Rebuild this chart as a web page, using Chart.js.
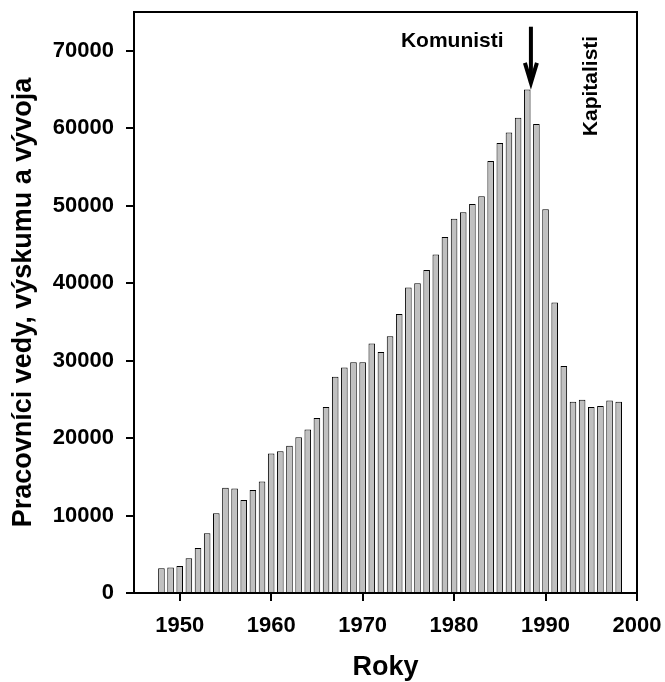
<!DOCTYPE html>
<html>
<head>
<meta charset="utf-8">
<script src="https://cdn.jsdelivr.net/npm/chart.js@4/dist/chart.umd.min.js"></script>
<style>
  html, body { margin: 0; padding: 0; background: #fff; }
  #wrap { width: 665px; height: 682px; }
</style>
</head>
<body>
<div id="wrap"><canvas id="chBar"></canvas></div>
<script>
// Years and number of research workers
const years = [1948, 1949, 1950, 1951, 1952, 1953, 1954, 1955, 1956, 1957,
  1958, 1959, 1960, 1961, 1962, 1963, 1964, 1965, 1966, 1967,
  1968, 1969, 1970, 1971, 1972, 1973, 1974, 1975, 1976, 1977,
  1978, 1979, 1980, 1981, 1982, 1983, 1984, 1985, 1986, 1987,
  1988, 1989, 1990, 1991, 1992, 1993, 1994, 1995, 1996, 1997, 1998];
const workers = [3200, 3300, 3500, 4500, 5800, 7700, 10300, 13600, 13500, 12000,
  13300, 14400, 18000, 18300, 19000, 20100, 21100, 22600, 24000, 27900,
  29100, 29800, 29800, 32200, 31100, 33150, 36000, 39450, 40000, 41700,
  43700, 45950, 48300, 49150, 50200, 51200, 55750, 58100, 59450, 61350,
  65000, 60550, 49550, 37500, 29300, 24700, 24950, 24000, 24150, 24850, 24700];

const xTicks = [1950, 1960, 1970, 1980, 1990, 2000];
const yTicks = [0, 10000, 20000, 30000, 40000, 50000, 60000, 70000];

const FONT = "'Liberation Sans', Arial, sans-serif";

// Notes on the chart (positions in data units)
const komunistiPos = { x: 1979.8, y: 71250 };
const kapitalistiPos = { x: 1995.0, y: 65450 };
const arrowPos = { x: 1988.4, from: 73100, to: 65600 };

const notesPlugin = {
  id: "notes",
  afterDraw(chart) {
    const ctx = chart.ctx;
    const xs = chart.scales.x, ys = chart.scales.y;
    const a = chart.chartArea;
    ctx.save();
    // frame
    ctx.strokeStyle = "#000";
    ctx.lineWidth = 2;
    ctx.strokeRect(a.left, a.top, a.right - a.left, a.bottom - a.top);

    ctx.fillStyle = "#000";
    ctx.font = "bold 21px " + FONT;
    ctx.textAlign = "center";
    ctx.textBaseline = "middle";
    ctx.fillText("Komunisti", xs.getPixelForValue(komunistiPos.x), ys.getPixelForValue(komunistiPos.y));

    ctx.save();
    ctx.translate(xs.getPixelForValue(kapitalistiPos.x), ys.getPixelForValue(kapitalistiPos.y));
    ctx.rotate(-Math.PI / 2);
    ctx.fillText("Kapitalisti", 0, 0);
    ctx.restore();

    // arrow
    const ax = xs.getPixelForValue(arrowPos.x);
    const y1 = ys.getPixelForValue(arrowPos.from);
    const y2 = ys.getPixelForValue(arrowPos.to);
    ctx.lineWidth = 4;
    ctx.lineCap = "butt";
    ctx.beginPath();
    ctx.moveTo(ax, y1);
    ctx.lineTo(ax, y2 - 2);
    ctx.stroke();
    ctx.lineJoin = "miter";
    ctx.beginPath();
    ctx.moveTo(ax - 6, y2 - 22);
    ctx.lineTo(ax, y2 - 2);
    ctx.lineTo(ax + 6, y2 - 22);
    ctx.stroke();
    ctx.restore();
  }
};

const data = {
  datasets: [
    {
      label: "Pracovníci",
      data: years.map((y, i) => ({ x: y, y: workers[i] })),
      backgroundColor: "rgb(192, 192, 192)",
      borderColor: "#000",
      borderWidth: 1,
      categoryPercentage: 1,
      barPercentage: 0.72,
    },
  ],
};

const config = {
  type: "bar",
  data: data,
  options: {
    responsive: true,
    maintainAspectRatio: false,
    animation: false,
    layout: { padding: { top: 12, right: 28, bottom: 0, left: 0 } },
    plugins: { legend: { display: false }, tooltip: { enabled: false } },
    scales: {
      x: {
        type: "linear",
        min: 1945,
        max: 2000,
        offset: false,
        afterBuildTicks: (s) => { s.ticks = xTicks.map((v) => ({ value: v })); },
        afterFit: (s) => {
          s.height = 89;
          s.paddingLeft = 0;
          s.paddingRight = 0;
        },
        grid: { display: true, offset: false, drawOnChartArea: false, drawTicks: true, tickLength: 8, color: "#000", lineWidth: 2 },
        border: { display: true, color: "#000", width: 2 },
        ticks: {
          color: "#000",
          padding: 12,
          maxRotation: 0,
          font: { family: FONT, size: 22, weight: "bold" },
          callback: (v) => String(v),
        },
        title: {
          display: true,
          text: "Roky",
          color: "#000",
          padding: 0,
          font: { family: FONT, size: 27, weight: "bold", lineHeight: 1.1 },
        },
      },
      y: {
        min: 0,
        max: 75000,
        afterBuildTicks: (s) => { s.ticks = yTicks.map((v) => ({ value: v })); },
        afterFit: (s) => {
          s.width = 134;
          s.paddingTop = 0;
          s.paddingBottom = 0;
        },
        grid: { display: true, drawOnChartArea: false, drawTicks: true, tickLength: 8, color: "#000", lineWidth: 2 },
        border: { display: true, color: "#000", width: 2 },
        ticks: {
          color: "#000",
          padding: 12,
          font: { family: FONT, size: 22, weight: "bold" },
          callback: (v) => String(v),
        },
        title: {
          display: true,
          text: "Pracovníci vedy, výskumu a vývoja",
          color: "#000",
          padding: { top: 9, bottom: 0 },
          font: { family: FONT, size: 27, weight: "bold", lineHeight: 1.1 },
        },
      },
    },
  },
  plugins: [notesPlugin],
};

var myChart = new Chart(document.getElementById("chBar"), config);
</script>
</body>
</html>
